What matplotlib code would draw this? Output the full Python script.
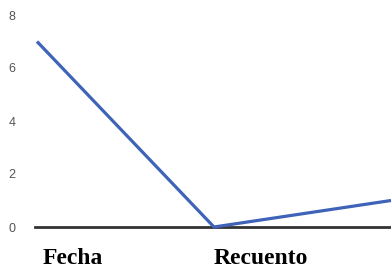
import matplotlib
matplotlib.use("Agg")
import matplotlib.pyplot as plt
import matplotlib.transforms as mtrans

categories = ["Fecha", "Recuento", ""]
values = [7, 0, 1]
y_ticks = [0, 2, 4, 6, 8]

fig = plt.figure(figsize=(3.91, 2.73), dpi=100)
ax = fig.add_axes([35 / 391, 46 / 273, 356 / 391, 212 / 273])

x = list(range(len(categories)))
ax.plot(x, values, color="#3f63b8", linewidth=2.3, solid_capstyle="butt",
        zorder=3, clip_on=False)
ax.axhline(0, color="#333333", linewidth=2.0, zorder=2, clip_on=False)

ax.set_xlim(-2 / 177, 2)
ax.set_ylim(0, 8)
ax.set_yticks(y_ticks)
ax.set_yticklabels([str(v) for v in y_ticks], fontsize=9, color="#555555",
                   family="Liberation Sans")
ax.tick_params(axis="y", length=0, pad=14)

ax.set_xticks(x)
ax.set_xticklabels(categories, fontsize=17, fontweight="bold",
                   family="Liberation Serif", ha="left")
ax.tick_params(axis="x", length=0, pad=15)
# Fecha sits a little to the right of its point
lbl = ax.get_xticklabels()[0]
lbl.set_transform(lbl.get_transform() + mtrans.Affine2D().translate(6, 0))

for s in ax.spines.values():
    s.set_visible(False)

fig.savefig("out.png", dpi=100)
